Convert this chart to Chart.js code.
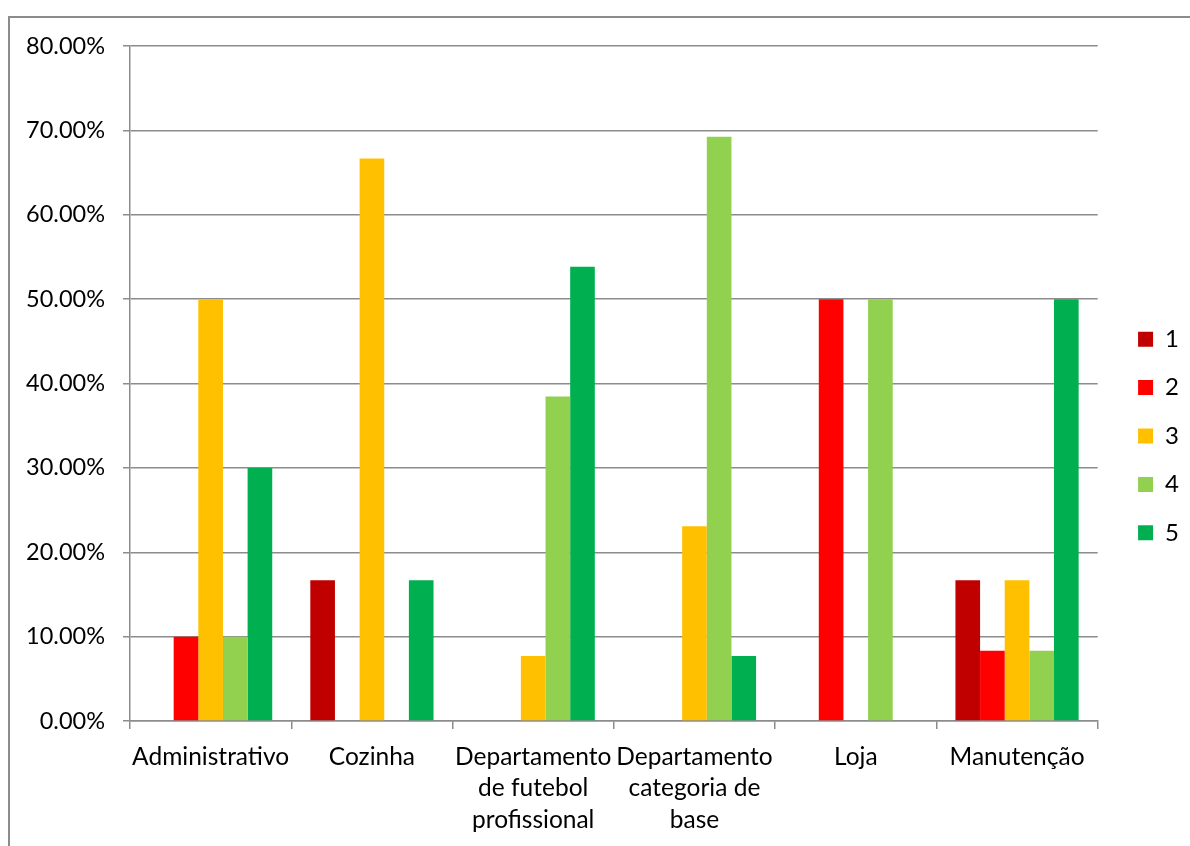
<!DOCTYPE html>
<html>
<head>
<meta charset="utf-8">
<script src="https://cdn.jsdelivr.net/npm/chart.js@4/dist/chart.umd.min.js"></script>
<style>
  html, body { margin: 0; padding: 0; background: #ffffff; }
  #wrap { width: 1190px; height: 846px; position: relative; }
</style>
</head>
<body>
<div id="wrap"><canvas id="c" width="1190" height="846"></canvas></div>
<script>
// Sectors (category axis)
const categories = [
  'Administrativo',
  'Cozinha',
  ['Departamento', 'de futebol', 'profissional'],
  ['Departamento', 'categoria de', 'base'],
  'Loja',
  'Manutenção'
];

// Share of answers per score, in percent
const score1 = [0, 16.67, 0, 0, 0, 16.67];
const score2 = [10, 0, 0, 0, 50, 8.33];
const score3 = [50, 66.67, 7.69, 23.08, 0, 16.67];
const score4 = [10, 0, 38.46, 69.23, 50, 8.33];
const score5 = [30, 16.67, 53.85, 7.69, 0, 50];

const seriesLabels = ['1', '2', '3', '4', '5'];
const seriesColors = ['#C00000', '#FF0000', '#FFC000', '#92D050', '#00B050'];

// Value axis ticks
const yMin = 0;
const yMax = 80;
const yStep = 10;

const FONT = 'Lato';
const GRID = '#8c8c8c';

const seriesValues = [score1, score2, score3, score4, score5];
const datasets = seriesValues.map((vals, i) => ({
  label: seriesLabels[i],
  data: vals,
  backgroundColor: seriesColors[i],
  borderWidth: 0,
  categoryPercentage: 0.764,
  barPercentage: 1.0
}));

// Outer frame of the chart object
const frame = {
  id: 'frame',
  beforeDraw(chart) {
    const ctx = chart.ctx;
    ctx.save();
    ctx.fillStyle = '#ffffff';
    ctx.fillRect(0, 0, chart.width, chart.height);
    ctx.strokeStyle = GRID;
    ctx.lineWidth = 2;
    ctx.strokeRect(9, 17, chart.width + 20, chart.height + 20);
    ctx.restore();
  }
};

// Nudge the legend: small gap from the plot, keys a bit higher
const legendGap = {
  id: 'legendGap',
  afterLayout(chart) {
    const lg = chart.legend;
    if (!lg) return;
    const dx = 16, dy = -10;
    lg.left += dx;
    lg.right += dx;
    lg.top += dy;
    lg.bottom += dy;
  }
};

new Chart(document.getElementById('c'), {
  type: 'bar',
  data: { labels: categories, datasets },
  plugins: [frame, legendGap],
  options: {
    responsive: false,
    animation: false,
    devicePixelRatio: 1,
    layout: { padding: { top: 46, bottom: 0, left: 0, right: 17 } },
    plugins: {
      tooltip: { enabled: false },
      legend: {
        position: 'right',
        labels: {
          boxWidth: 15,
          boxHeight: 15,
          padding: 24.4,
          color: '#000000',
          font: { family: FONT, size: 24 }
        }
      }
    },
    scales: {
      x: {
        offset: true,
        grid: {
          display: true,
          drawOnChartArea: false,
          drawTicks: true,
          tickLength: 8,
          color: GRID,
          lineWidth: 1.5,
          offset: true
        },
        border: { display: true, color: GRID, width: 1.5 },
        ticks: {
          color: '#000000',
          font: { family: FONT, size: 24.5, lineHeight: 1.286 },
          maxRotation: 0,
          minRotation: 0,
          autoSkip: false,
          padding: 12
        },
        afterFit(scale) { scale.height = 125; }
      },
      y: {
        min: yMin,
        max: yMax,
        grid: {
          color: GRID,
          lineWidth: 1.5,
          tickLength: 7,
          drawTicks: true
        },
        border: { display: true, color: GRID, width: 1.5 },
        ticks: {
          stepSize: yStep,
          color: '#000000',
          font: { family: FONT, size: 23.5 },
          padding: 18,
          callback: (v) => Number(v).toFixed(2) + '%'
        },
        afterFit(scale) { scale.width = 130; }
      }
    }
  }
});
</script>
</body>
</html>
